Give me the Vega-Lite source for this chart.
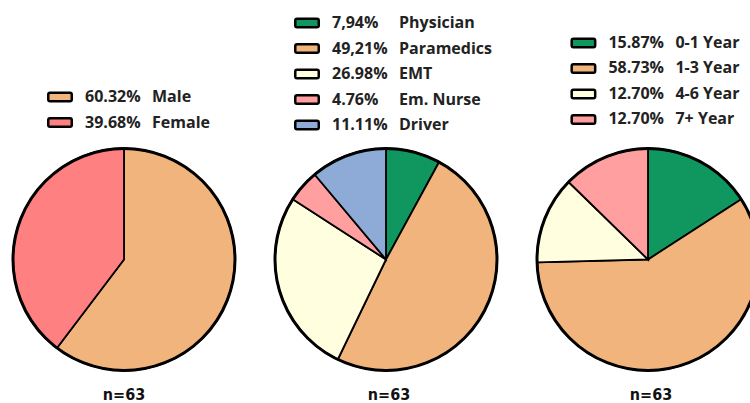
{
  "$schema": "https://vega.github.io/schema/vega-lite/v6.json",
  "padding": 0,
  "background": "white",
  "config": {"view": {"stroke": null}},
  "datasets": {
    "shares": [
      {"group": "Gender", "rank": 1, "category": "Male", "value": 60.32, "pct": "60.32%"},
      {"group": "Gender", "rank": 2, "category": "Female", "value": 39.68, "pct": "39.68%"},
      {"group": "Profession", "rank": 1, "category": "Physician", "value": 7.94, "pct": "7,94%"},
      {"group": "Profession", "rank": 2, "category": "Paramedics", "value": 49.21, "pct": "49,21%"},
      {"group": "Profession", "rank": 3, "category": "EMT", "value": 26.98, "pct": "26.98%"},
      {"group": "Profession", "rank": 4, "category": "Em. Nurse", "value": 4.76, "pct": "4.76%"},
      {"group": "Profession", "rank": 5, "category": "Driver", "value": 11.11, "pct": "11.11%"},
      {"group": "Experience", "rank": 1, "category": "0-1 Year", "value": 15.87, "pct": "15.87%"},
      {"group": "Experience", "rank": 2, "category": "1-3 Year", "value": 58.73, "pct": "58.73%"},
      {"group": "Experience", "rank": 3, "category": "4-6 Year", "value": 12.70, "pct": "12.70%"},
      {"group": "Experience", "rank": 4, "category": "7+ Year", "value": 12.70, "pct": "12.70%"}
    ]
  },
  "data": {"name": "shares"},
  "spacing": 0,
  "hconcat": [
    {
      "bounds": "flush",
      "spacing": 0,
      "transform": [{"filter": "datum.group === 'Gender'"}],
      "vconcat": [
        {
          "width": 248, "height": 145,
          "layer": [
            {"mark": {"type": "point", "shape": "M-0.85,-0.36L0.85,-0.36Q1,-0.36,1,-0.21L1,0.21Q1,0.36,0.85,0.36L-0.85,0.36Q-1,0.36,-1,0.21L-1,-0.21Q-1,-0.36,-0.85,-0.36Z", "filled": true, "size": 552, "stroke": "#000", "strokeWidth": 2.5, "opacity": 1},
             "encoding": {
               "x": {"field": "group", "type": "nominal", "scale": {"type": "point", "align": 0.242}, "axis": null},
               "y": {"field": "rank", "type": "quantitative", "scale": {"domain": [-2.804, 2.882], "nice": false, "zero": false, "reverse": true}, "axis": null},
               "color": {"field": "category", "type": "nominal", "legend": null, "scale": {"domain": ["Male", "Female", "Physician", "Paramedics", "EMT", "Em. Nurse", "Driver", "0-1 Year", "1-3 Year", "4-6 Year", "7+ Year"], "range": ["#f0b47c", "#ff8080", "#10965f", "#f0b47c", "#ffffe0", "#ff9f9f", "#8eaad6", "#10965f", "#f0b47c", "#ffffe0", "#ff9f9f"]}}
             }},
            {"mark": {"type": "text", "align": "left", "baseline": "middle", "dx": 25, "font": "Open Sans", "fontWeight": "bold", "fontSize": 16, "color": "#222"},
             "encoding": {
               "x": {"field": "group", "type": "nominal"},
               "y": {"field": "rank", "type": "quantitative"},
               "text": {"field": "pct"}
             }},
            {"mark": {"type": "text", "align": "left", "baseline": "middle", "dx": 92, "font": "Open Sans", "fontWeight": "bold", "fontSize": 16, "color": "#222"},
             "encoding": {
               "x": {"field": "group", "type": "nominal"},
               "y": {"field": "rank", "type": "quantitative"},
               "text": {"field": "category"}
             }}
          ]
        },
        {
          "width": 248, "height": 229,
          "title": {"text": "n=63", "orient": "bottom", "anchor": "middle", "offset": 13, "font": "DejaVu Sans Condensed", "fontWeight": "bold", "fontSize": 16, "color": "#111"},
          "layer": [
            {"mark": {"type": "arc", "radius": 111, "stroke": "#000", "strokeWidth": 1.8, "clip": true},
             "encoding": {
               "x": {"field": "group", "type": "nominal", "scale": {"type": "point", "align": 0.5}, "axis": null},
               "theta": {"field": "value", "type": "quantitative", "stack": true},
               "order": {"field": "rank"},
               "color": {"field": "category", "type": "nominal", "legend": null}
             }},
            {"transform": [{"filter": "datum.rank === 1"}],
             "mark": {"type": "arc", "radius": 111, "theta": 0, "theta2": 6.2832, "filled": false, "stroke": "#000", "strokeWidth": 3, "clip": true},
             "encoding": {"x": {"field": "group", "type": "nominal"}}}
          ]
        }
      ]
    },
    {
      "bounds": "flush",
      "spacing": 0,
      "transform": [{"filter": "datum.group === 'Profession'"}],
      "vconcat": [
        {
          "width": 276, "height": 145,
          "layer": [
            {"mark": {"type": "point", "shape": "M-0.85,-0.36L0.85,-0.36Q1,-0.36,1,-0.21L1,0.21Q1,0.36,0.85,0.36L-0.85,0.36Q-1,0.36,-1,0.21L-1,-0.21Q-1,-0.36,-0.85,-0.36Z", "filled": true, "size": 552, "stroke": "#000", "strokeWidth": 2.5, "opacity": 1},
             "encoding": {
               "x": {"field": "group", "type": "nominal", "scale": {"type": "point", "align": 0.2138}, "axis": null},
               "y": {"field": "rank", "type": "quantitative", "scale": {"domain": [0.098, 5.784], "nice": false, "zero": false, "reverse": true}, "axis": null},
               "color": {"field": "category", "type": "nominal", "legend": null}
             }},
            {"mark": {"type": "text", "align": "left", "baseline": "middle", "dx": 25, "font": "Open Sans", "fontWeight": "bold", "fontSize": 16, "color": "#222"},
             "encoding": {
               "x": {"field": "group", "type": "nominal"},
               "y": {"field": "rank", "type": "quantitative"},
               "text": {"field": "pct"}
             }},
            {"mark": {"type": "text", "align": "left", "baseline": "middle", "dx": 92, "font": "Open Sans", "fontWeight": "bold", "fontSize": 16, "color": "#222"},
             "encoding": {
               "x": {"field": "group", "type": "nominal"},
               "y": {"field": "rank", "type": "quantitative"},
               "text": {"field": "category"}
             }}
          ]
        },
        {
          "width": 276, "height": 229,
          "title": {"text": "n=63", "orient": "bottom", "anchor": "middle", "offset": 13, "dx": 3, "font": "DejaVu Sans Condensed", "fontWeight": "bold", "fontSize": 16, "color": "#111"},
          "layer": [
            {"mark": {"type": "arc", "radius": 111, "stroke": "#000", "strokeWidth": 1.8, "clip": true},
             "encoding": {
               "x": {"field": "group", "type": "nominal", "scale": {"type": "point", "align": 0.5}, "axis": null},
               "theta": {"field": "value", "type": "quantitative", "stack": true},
               "order": {"field": "rank"},
               "color": {"field": "category", "type": "nominal", "legend": null}
             }},
            {"transform": [{"filter": "datum.rank === 1"}],
             "mark": {"type": "arc", "radius": 111, "theta": 0, "theta2": 6.2832, "filled": false, "stroke": "#000", "strokeWidth": 3, "clip": true},
             "encoding": {"x": {"field": "group", "type": "nominal"}}}
          ]
        }
      ]
    },
    {
      "bounds": "flush",
      "spacing": 0,
      "transform": [{"filter": "datum.group === 'Experience'"}],
      "vconcat": [
        {
          "width": 226, "height": 145,
          "layer": [
            {"mark": {"type": "point", "shape": "M-0.85,-0.36L0.85,-0.36Q1,-0.36,1,-0.21L1,0.21Q1,0.36,0.85,0.36L-0.85,0.36Q-1,0.36,-1,0.21L-1,-0.21Q-1,-0.36,-0.85,-0.36Z", "filled": true, "size": 552, "stroke": "#000", "strokeWidth": 2.5, "opacity": 1},
             "encoding": {
               "x": {"field": "group", "type": "nominal", "scale": {"type": "point", "align": 0.263}, "axis": null},
               "y": {"field": "rank", "type": "quantitative", "scale": {"domain": [-0.686, 5.0], "nice": false, "zero": false, "reverse": true}, "axis": null},
               "color": {"field": "category", "type": "nominal", "legend": null}
             }},
            {"mark": {"type": "text", "align": "left", "baseline": "middle", "dx": 25, "font": "Open Sans", "fontWeight": "bold", "fontSize": 16, "color": "#222"},
             "encoding": {
               "x": {"field": "group", "type": "nominal"},
               "y": {"field": "rank", "type": "quantitative"},
               "text": {"field": "pct"}
             }},
            {"mark": {"type": "text", "align": "left", "baseline": "middle", "dx": 92, "font": "Open Sans", "fontWeight": "bold", "fontSize": 16, "color": "#222"},
             "encoding": {
               "x": {"field": "group", "type": "nominal"},
               "y": {"field": "rank", "type": "quantitative"},
               "text": {"field": "category"}
             }}
          ]
        },
        {
          "width": 226, "height": 229,
          "title": {"text": "n=63", "orient": "bottom", "anchor": "middle", "offset": 13, "dx": 14, "font": "DejaVu Sans Condensed", "fontWeight": "bold", "fontSize": 16, "color": "#111"},
          "layer": [
            {"mark": {"type": "arc", "radius": 111, "stroke": "#000", "strokeWidth": 1.8, "clip": true},
             "encoding": {
               "x": {"field": "group", "type": "nominal", "scale": {"type": "point", "align": 0.5487}, "axis": null},
               "theta": {"field": "value", "type": "quantitative", "stack": true},
               "order": {"field": "rank"},
               "color": {"field": "category", "type": "nominal", "legend": null}
             }},
            {"transform": [{"filter": "datum.rank === 1"}],
             "mark": {"type": "arc", "radius": 111, "theta": 0, "theta2": 6.2832, "filled": false, "stroke": "#000", "strokeWidth": 3, "clip": true},
             "encoding": {"x": {"field": "group", "type": "nominal"}}}
          ]
        }
      ]
    }
  ]
}
